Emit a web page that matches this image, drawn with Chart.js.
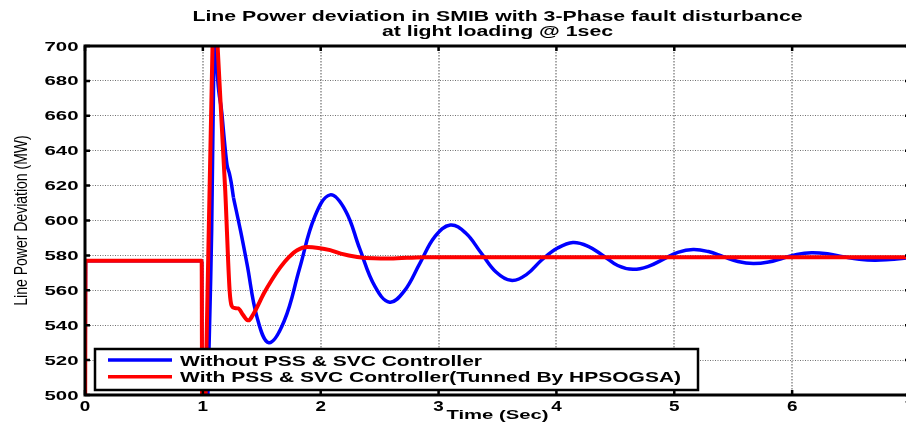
<!DOCTYPE html>
<html><head><meta charset="utf-8">
<script src="https://cdn.jsdelivr.net/npm/chart.js@4.4.1/dist/chart.umd.min.js"></script>
<style>
html,body{margin:0;padding:0;overflow:hidden;background:#fff;width:906px;height:433px}
#wrap{position:absolute;left:0;top:0;width:912px;height:433px}
</style>
</head><body><div id="wrap"><canvas id="c" width="912" height="433"></canvas></div>
<script>
const chartTitle = ["Line Power deviation in SMIB with 3-Phase fault disturbance", "at light loading @ 1sec"];
const xAxisTitle = "Time (Sec)";
const yAxisTitle = "Line Power Deviation (MW)";
const seriesLabels = ["Without PSS & SVC Controller", "With PSS & SVC Controller(Tunned By HPSOGSA)"];
const seriesColors = ["#0000ff", "#ff0000"];
const xTickValues = [0, 1, 2, 3, 4, 5, 6, 7];
const yTickValues = [500, 520, 540, 560, 580, 600, 620, 640, 660, 680, 700];

const timeBlue = [0, 0.005, 0.99, 0.995, 1.02, 1.035, 1.065, 1.075, 1.095, 1.103, 1.111, 1.162, 1.205, 1.225, 1.24, 1.26, 1.32, 1.375, 1.46, 1.56, 1.69, 1.82, 1.95, 2.08, 2.21, 2.33, 2.46, 2.585, 2.71, 2.84, 2.97, 3.10, 3.23, 3.36, 3.49, 3.614, 3.745, 3.877, 4.01, 4.14, 4.27, 4.40, 4.52, 4.65, 4.78, 4.905, 5.03, 5.16, 5.29, 5.415, 5.54, 5.67, 5.80, 5.92, 6.04, 6.165, 6.30, 6.43, 6.57, 6.70, 6.83, 6.95, 7.0];
const powerBlue = [450, 577, 577, 440, 440, 480, 562, 595, 700, 725, 700, 661, 632, 627, 622, 613, 594, 575, 544.5, 530, 542.4, 572.4, 602.3, 614.7, 605.7, 584, 562.2, 553.2, 559.7, 575.3, 590.9, 597.4, 592.8, 581.5, 570.3, 565.7, 569, 577.5, 584.2, 587.4, 585.2, 579.7, 574.2, 572, 573.7, 577.7, 581.7, 583.4, 582.2, 579.35, 576.5, 575.3, 576.2, 578.4, 580.6, 581.5, 580.9, 579.3, 577.8, 577.2, 577.6, 578.3, 578.6];

const timeRed = [0, 0.005, 0.99, 0.995, 1.02, 1.024, 1.03, 1.082, 1.10, 1.118, 1.125, 1.19, 1.227, 1.245, 1.27, 1.30, 1.34, 1.375, 1.39, 1.417, 1.45, 1.516, 1.59, 1.66, 1.73, 1.80, 1.885, 1.98, 2.08, 2.17, 2.31, 2.45, 2.59, 2.87, 3.5, 5.0, 7.0];
const powerRed = [450, 577, 577, 440, 440, 505, 525, 700, 740, 712, 700, 617, 560, 551, 549.8, 549.6, 546, 543, 542.8, 545, 549, 558, 566.5, 573.4, 579, 583, 584.8, 584.3, 583, 581, 579.1, 578.3, 578.2, 579, 579, 579, 579];

function pts(t, v) { return t.map((x, i) => ({x: x, y: v[i]})); }
// the blue series is drawn in two pieces (sharp fault part, smooth swing) only for curve smoothing
const blueSplit = timeBlue.indexOf(1.26);

function sText(ctx, text, x, y, sx, align) {
  ctx.save(); ctx.translate(x, y); ctx.scale(sx, 1);
  ctx.textAlign = align; ctx.textBaseline = 'alphabetic';
  ctx.fillText(text, 0, 0); ctx.restore();
}

const decor = {
  id: 'decor',
  beforeDraw(chart) {
    const ctx = chart.ctx;
    ctx.save(); ctx.fillStyle = '#fff'; ctx.fillRect(0, 0, chart.width, chart.height); ctx.restore();
  },
  afterDatasetsDraw(chart) {
    const ctx = chart.ctx, a = chart.chartArea;
    const xs = chart.scales.x, ys = chart.scales.y;
    ctx.save();
    ctx.strokeStyle = '#000'; ctx.lineWidth = 3; ctx.setLineDash([]);
    ctx.beginPath();
    ctx.moveTo(a.left, a.top); ctx.lineTo(a.right, a.top);
    ctx.moveTo(a.left, a.top - 1.5); ctx.lineTo(a.left, a.bottom + 1.5);
    ctx.moveTo(a.left, a.bottom); ctx.lineTo(a.right, a.bottom);
    ctx.moveTo(a.right, a.top); ctx.lineTo(a.right, a.bottom);
    ctx.stroke();
    ctx.lineWidth = 2.5;
    ctx.beginPath();
    xTickValues.forEach(v => {
      const px = xs.getPixelForValue(v);
      ctx.moveTo(px, a.bottom); ctx.lineTo(px, a.bottom - 5);
      ctx.moveTo(px, a.top); ctx.lineTo(px, a.top + 5);
    });
    yTickValues.forEach(v => {
      const py = ys.getPixelForValue(v);
      ctx.moveTo(a.left, py); ctx.lineTo(a.left + 5, py);
      ctx.moveTo(a.right, py); ctx.lineTo(a.right - 5, py);
    });
    ctx.stroke();
    const lx = 95, ly = 349, lw = 603, lh = 41;
    ctx.fillStyle = '#fff'; ctx.fillRect(lx, ly, lw, lh);
    ctx.lineWidth = 2.5; ctx.strokeStyle = '#000'; ctx.strokeRect(lx, ly, lw, lh);
    const rows = [360, 376.7];
    ctx.font = 'bold 15px "Liberation Sans", Arial, sans-serif';
    seriesLabels.forEach((lab, i) => {
      ctx.strokeStyle = seriesColors[i]; ctx.lineWidth = 3.5;
      ctx.beginPath(); ctx.moveTo(108, rows[i]); ctx.lineTo(172, rows[i]); ctx.stroke();
      ctx.fillStyle = '#000';
      sText(ctx, lab, 180, rows[i] + 5.5, 1.4, 'left');
    });
    ctx.fillStyle = '#000';
    ctx.font = 'bold 12.5px "Liberation Sans", Arial, sans-serif';
    yTickValues.forEach(v => {
      sText(ctx, String(v), 78.5, ys.getPixelForValue(v) + 4.5, 1.63, 'right');
    });
    ctx.font = 'bold 14px "Liberation Sans", Arial, sans-serif';
    xTickValues.forEach(v => {
      sText(ctx, String(v), xs.getPixelForValue(v), 411, 1.35, 'center');
    });
    ctx.font = 'bold 13px "Liberation Sans", Arial, sans-serif';
    sText(ctx, xAxisTitle, (a.left + a.right) / 2, 418.5, 1.56, 'center');
    ctx.save();
    ctx.font = '14px "Liberation Sans", Arial, sans-serif';
    ctx.translate(27, (a.top + a.bottom) / 2); ctx.scale(1.3, 1); ctx.rotate(-Math.PI / 2);
    ctx.textAlign = 'center'; ctx.textBaseline = 'alphabetic';
    ctx.fillText(yAxisTitle, 0, 0);
    ctx.restore();
    ctx.font = 'bold 14px "Liberation Sans", Arial, sans-serif';
    sText(ctx, chartTitle[0], (a.left + a.right) / 2, 20.7, 1.52, 'center');
    sText(ctx, chartTitle[1], (a.left + a.right) / 2, 36, 1.52, 'center');
    ctx.restore();
  }
};

const bluePts = pts(timeBlue, powerBlue);

new Chart(document.getElementById('c'), {
  type: 'line',
  data: {
    datasets: [
      { label: seriesLabels[1], data: pts(timeRed, powerRed), borderColor: seriesColors[1], borderWidth: 4, order: 0,
        pointRadius: 0, cubicInterpolationMode: 'monotone', clip: 0, fill: false },
      { label: seriesLabels[0], data: bluePts.slice(0, blueSplit + 1), borderColor: seriesColors[0], borderWidth: 3.5, order: 1,
        pointRadius: 0, cubicInterpolationMode: 'monotone', clip: 0, fill: false },
      { label: seriesLabels[0], data: bluePts.slice(blueSplit), borderColor: seriesColors[0], borderWidth: 3.5, order: 2,
        pointRadius: 0, tension: 0.4, clip: 0, fill: false }
    ]
  },
  options: {
    responsive: false, animation: false, devicePixelRatio: 1,
    layout: { padding: { left: 85, top: 46, right: 2, bottom: 38 } },
    plugins: { legend: { display: false }, title: { display: false }, tooltip: { enabled: false } },
    scales: {
      x: { type: 'linear', min: 0, max: 7, ticks: { display: false, stepSize: 1 },
           grid: { color: '#a8a8a8', lineWidth: 2, drawTicks: false },
           border: { display: false, dash: [1.5, 1.5] } },
      y: { type: 'linear', min: 500, max: 700, ticks: { display: false, stepSize: 20 },
           grid: { color: '#707070', lineWidth: 1, drawTicks: false },
           border: { display: false, dash: [1, 1.5] } }
    }
  },
  plugins: [decor]
});
</script>
</body></html>
